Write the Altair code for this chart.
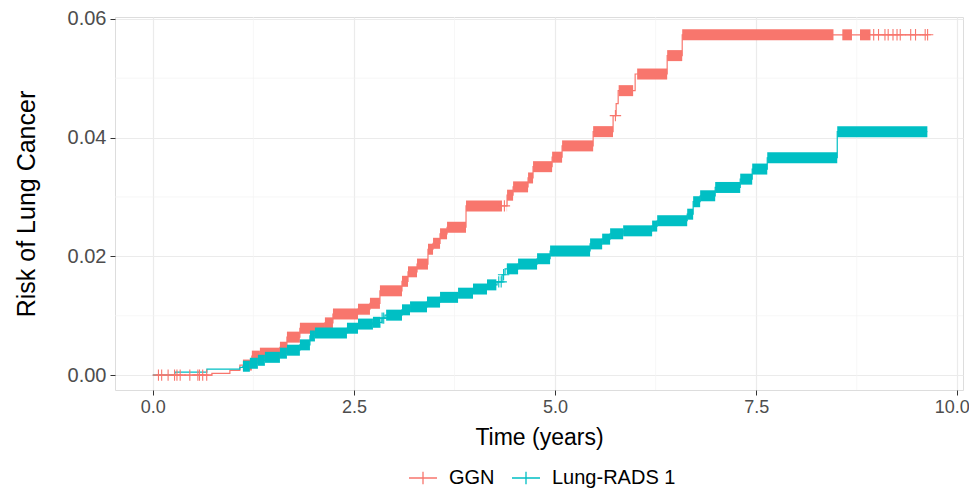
import altair as alt
import pandas as pd

# ---- data ----
groups = ["GGN", "Lung-RADS 1"]
colors = ["#F8766D", "#00BFC4"]

# step curve (time in years, cumulative risk)
ggn_time = [0.0, 0.734, 0.958, 1.082, 1.231, 1.331, 1.580, 1.667, 1.828, 2.139, 2.239, 2.550,
            2.699, 2.823, 3.097, 3.172, 3.284, 3.420, 3.483, 3.570, 3.657, 3.893, 4.403, 4.478,
            4.664, 4.726, 4.963, 5.087, 5.473, 5.721, 5.759, 5.784, 5.995, 6.393, 6.580]
ggn_risk = [0.0, 0.0003, 0.0008, 0.0017, 0.0032, 0.0037, 0.0047, 0.0064, 0.0079, 0.0088, 0.0103, 0.0111,
            0.0121, 0.0142, 0.0158, 0.0174, 0.0187, 0.0212, 0.0222, 0.0238, 0.0249, 0.0285, 0.0303, 0.0317,
            0.0332, 0.0351, 0.0367, 0.0386, 0.0410, 0.0437, 0.0457, 0.0479, 0.0507, 0.0538, 0.0573]
ggn_end = 9.627

lr1_time = [0.0, 0.274, 0.672, 1.082, 1.119, 1.206, 1.306, 1.393, 1.580, 1.667, 1.828, 1.953, 2.015,
            2.413, 2.550, 2.736, 2.848, 2.886, 3.097, 3.197, 3.408, 3.570, 3.794, 3.980, 4.154, 4.279,
            4.341, 4.378, 4.540, 4.776, 4.938, 5.435, 5.585, 5.684, 5.846, 6.206, 6.269, 6.642, 6.716,
            6.803, 6.990, 7.301, 7.450, 7.637, 8.507]
lr1_risk = [0.0, 0.0005, 0.0010, 0.0013, 0.0015, 0.0020, 0.0025, 0.0030, 0.0037, 0.0042, 0.0051, 0.0066, 0.0071,
            0.0079, 0.0086, 0.0089, 0.0096, 0.0101, 0.0110, 0.0115, 0.0123, 0.0131, 0.0138, 0.0145, 0.0152, 0.0157,
            0.0169, 0.0179, 0.0187, 0.0196, 0.0209, 0.0221, 0.0229, 0.0238, 0.0243, 0.0251, 0.0260, 0.0271, 0.0292,
            0.0302, 0.0316, 0.0330, 0.0347, 0.0366, 0.0410]
lr1_end = 9.627

# periods where censoring marks are so dense they merge into a solid band
ggn_dense = [(1.12, 4.34), (4.40, 5.72), (5.79, 5.97), (6.02, 8.46), (8.57, 8.69), (8.79, 8.92)]
lr1_dense = [(1.12, 2.83), (2.90, 4.27), (4.40, 9.63)]

# individual censoring marks in sparse periods
ggn_cens = [0.07, 0.11, 0.19, 0.27, 0.30, 0.34, 0.46, 0.56, 0.58, 0.62, 0.67, 4.37, 5.75,
            8.96, 9.02, 9.10, 9.14, 9.20, 9.25, 9.29, 9.42, 9.48, 9.60, 9.63]
lr1_cens = [2.85, 2.87, 4.30, 4.33, 4.36]

x_major = [0.0, 2.5, 5.0, 7.5, 10.0]
x_minor = [1.25, 3.75, 6.25, 8.75]
y_major = [0.0, 0.02, 0.04, 0.06]
y_minor = [0.01, 0.03, 0.05]

# ---- build tables ----
def risk_at(times, risks, t):
    r = risks[0]
    for ti, ri in zip(times, risks):
        if ti <= t + 1e-9:
            r = ri
    return r

line_rows, band_rows, cens_rows = [], [], []
specs = [
    ("GGN", ggn_time, ggn_risk, ggn_end, ggn_dense, ggn_cens),
    ("Lung-RADS 1", lr1_time, lr1_risk, lr1_end, lr1_dense, lr1_cens),
]
for g, ts, rs, end, dense, cens in specs:
    for t, r in zip(ts, rs):
        line_rows.append({"group": g, "time": t, "risk": r})
    line_rows.append({"group": g, "time": end, "risk": rs[-1]})
    bounds = ts + [end]
    for a, b in dense:
        for i in range(len(ts)):
            s = max(a, bounds[i])
            e = min(b, bounds[i + 1])
            if e > s:
                band_rows.append({"group": g, "t0": s, "t1": e, "risk": rs[i]})
    for t in cens:
        cens_rows.append({"group": g, "time": t, "risk": risk_at(ts, rs, t)})

lines = pd.DataFrame(line_rows)
bands = pd.DataFrame(band_rows)
cens_df = pd.DataFrame(cens_rows)

FONT = "Liberation Sans"
xscale = alt.Scale(domain=[-0.47, 10.07], nice=False, zero=False)
yscale = alt.Scale(domain=[-0.0025, 0.0603], nice=False, zero=False)
cscale = alt.Scale(domain=groups, range=colors)

xaxis = alt.Axis(values=x_major, format=".1f", title="Time (years)", grid=True,
                 gridColor="#EBEBEB", gridWidth=1.2, tickColor="#333333", tickSize=5,
                 domain=False, labelColor="#4D4D4D", labelFontSize=18, labelFont=FONT,
                 labelPadding=3, titleFont=FONT, titleFontSize=23, titleFontWeight="normal",
                 titleColor="#000000", titlePadding=10, labelFlush=10, labelFlushOffset=12)
yaxis = alt.Axis(values=y_major, format=".2f", title="Risk of Lung Cancer", grid=True,
                 gridColor="#EBEBEB", gridWidth=1.2, tickColor="#333333", tickSize=5,
                 domain=False, labelColor="#4D4D4D", labelFontSize=20, labelFont=FONT,
                 labelPadding=4, titleFont=FONT, titleFontSize=25, titleFontWeight="normal",
                 titleColor="#000000", titlePadding=28)

minor_x = alt.Chart(pd.DataFrame({"v": x_minor})).mark_rule(color="#F4F4F4", strokeWidth=0.7).encode(
    x=alt.X("v:Q", scale=xscale, axis=xaxis))
minor_y = alt.Chart(pd.DataFrame({"v": y_minor})).mark_rule(color="#F4F4F4", strokeWidth=0.7).encode(
    y=alt.Y("v:Q", scale=yscale, axis=yaxis))

legend = alt.Legend(title=None, orient="none", direction="horizontal", legendX=293, legendY=446,
                    labelFont=FONT, labelFontSize=20, labelColor="#000000",
                    symbolType="M-1,0H1M0,-0.45V0.45", symbolSize=784, symbolStrokeWidth=1.3,
                    symbolFillColor="transparent", columnPadding=14, labelOffset=11)

line = alt.Chart(lines).mark_line(interpolate="step-after", strokeWidth=1.2).encode(
    x=alt.X("time:Q", scale=xscale, axis=xaxis),
    y=alt.Y("risk:Q", scale=yscale, axis=yaxis),
    color=alt.Color("group:N", scale=cscale, legend=legend),
    detail="group:N",
)

band = alt.Chart(bands).mark_rule(strokeWidth=11, strokeCap="butt").encode(
    x=alt.X("t0:Q", scale=xscale),
    x2="t1:Q",
    y=alt.Y("risk:Q", scale=yscale),
    color=alt.Color("group:N", scale=cscale, legend=None),
)

marks = alt.Chart(cens_df).mark_point(shape="M-1,0H1M0,-1V1", size=130, filled=False,
                                      strokeWidth=1.1, opacity=1).encode(
    x=alt.X("time:Q", scale=xscale),
    y=alt.Y("risk:Q", scale=yscale),
    color=alt.Color("group:N", scale=cscale, legend=None),
)

chart = alt.layer(minor_x, minor_y, line, band, marks).properties(
    width=848, height=373,
    padding={"left": 107, "top": 9, "right": 6, "bottom": 101},
    autosize=alt.AutoSizeParams(type="none"),
).configure_view(stroke="#333333", strokeWidth=1.3).configure(background="white")

chart.save("out.html", embed_options={"renderer": "svg", "actions": False})
